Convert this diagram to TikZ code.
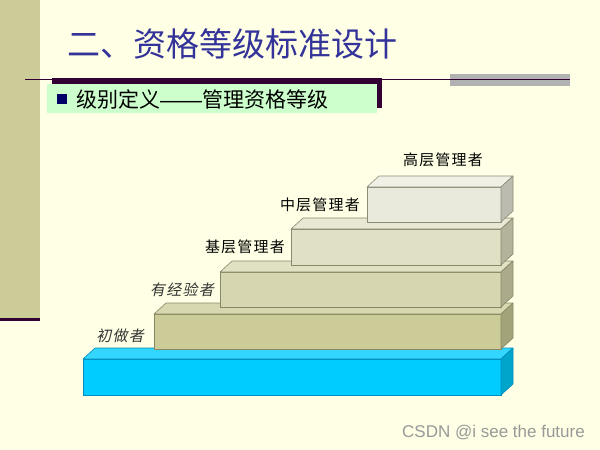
\documentclass[tikz,border=0pt]{standalone}
\usepackage{fontspec}
\setsansfont{Liberation Sans}
\newfontfamily\cjk{Noto Sans CJK SC}
\newfontfamily\cjklab[LetterSpace=8]{Noto Sans CJK SC}
\newfontfamily\cjkit[LetterSpace=8,FakeSlant=0.2]{Noto Sans CJK SC}
\usetikzlibrary{positioning}

\definecolor{paper}{RGB}{255,255,229}
\definecolor{khaki}{RGB}{204,204,153}
\definecolor{plum}{RGB}{51,0,51}
\definecolor{titleblue}{RGB}{51,51,153}
\definecolor{mint}{RGB}{204,255,204}
\definecolor{navy}{RGB}{0,0,102}
% step colours: F front, T top, S side, E edge
\definecolor{Fbase}{RGB}{0,204,255}   \definecolor{Tbase}{RGB}{51,214,255}
\definecolor{Sbase}{RGB}{0,165,204}   \definecolor{Ebase}{RGB}{0,140,190}
\definecolor{Fnovice}{RGB}{204,204,153} \definecolor{Tnovice}{RGB}{216,216,176}
\definecolor{Snovice}{RGB}{163,163,122} \definecolor{Enovice}{RGB}{136,136,100}
\definecolor{Fskilled}{RGB}{214,214,176} \definecolor{Tskilled}{RGB}{224,224,194}
\definecolor{Sskilled}{RGB}{171,171,140} \definecolor{Eskilled}{RGB}{136,136,104}
\definecolor{Fjunior}{RGB}{224,224,196} \definecolor{Tjunior}{RGB}{232,232,212}
\definecolor{Sjunior}{RGB}{179,179,156} \definecolor{Ejunior}{RGB}{136,136,110}
\definecolor{Fmiddle}{RGB}{234,234,220} \definecolor{Tmiddle}{RGB}{240,240,230}
\definecolor{Smiddle}{RGB}{187,187,176} \definecolor{Emiddle}{RGB}{140,140,120}

\begin{document}
\begin{tikzpicture}[
  x=1pt, y=-1pt,
  front/.style={line width=0.6pt, inner sep=0pt, outer sep=0pt, anchor=north west},
  lbl/.style={font=\cjklab\fontsize{15}{15}\selectfont, inner sep=0pt},
  ital/.style={font=\cjkit\fontsize{15}{15}\selectfont, inner sep=0pt, text=black!80}
]
\fill[paper] (0,0) rectangle (600,450);
\useasboundingbox (0,0) rectangle (600,450);

% left band and header rules
\fill[khaki] (0,0) rectangle (40,318);
\fill[plum]  (0,318) rectangle (40,321);
\fill[black!30] (450,74) rectangle (570,86);
\draw[plum, line width=1.2pt] (25,79.5) -- (570,79.5);

\node[font=\cjk\fontsize{33}{33}\selectfont, text=titleblue, anchor=west, inner sep=0pt]
  (title) at (67,44) {二、资格等级标准设计};

\fill[plum] (52,78) rectangle (382,108);
\fill[mint] (47,84) rectangle (377,113);
\fill[navy] (57,94) rectangle (67,104);
\node[font=\cjk\fontsize{21}{21}\selectfont, anchor=west, inner sep=0pt]
  (subtitle) at (76,99) {级别定义{\sffamily ——}管理资格等级};

% steps, bottom to top
\foreach \n/\xl/\yt/\h in {base/83/359/36, novice/154/314/35, skilled/220/272/35,
                           junior/291/229/36, middle/367/187/35} {
  \node[front, draw=E\n, fill=F\n, minimum width={(501-\xl)*1pt},
        minimum height={\h*1pt}] (\n) at (\xl,\yt) {};
  \draw[line width=0.6pt, draw=E\n, fill=T\n, line join=round]
    (\n.north west) -- ++(12,-11) -- ([shift={(12,-11)}]\n.north east)
    -- (\n.north east) -- cycle;
  \draw[line width=0.6pt, draw=E\n, fill=S\n, line join=round]
    (\n.north east) -- ++(12,-11) -- ([shift={(12,-11)}]\n.south east)
    -- (\n.south east) -- cycle;
}

\node[lbl, above=20pt of middle.north, xshift=9pt] (ltop) {高层管理者};
\node[lbl, left=7pt of middle] (lmiddle) {中层管理者};
\node[lbl, left=6pt of junior] (ljunior) {基层管理者};
\node[ital, left=6pt of skilled] (lskilled) {有经验者};
\node[ital, left=10pt of novice, yshift=-4pt] (lnovice) {初做者};

\node[font=\sffamily\fontsize{17}{17}\selectfont, text=black!40, anchor=east, inner sep=0pt]
  (mark) at (585,433) {CSDN @i see the future};
\end{tikzpicture}
\end{document}
